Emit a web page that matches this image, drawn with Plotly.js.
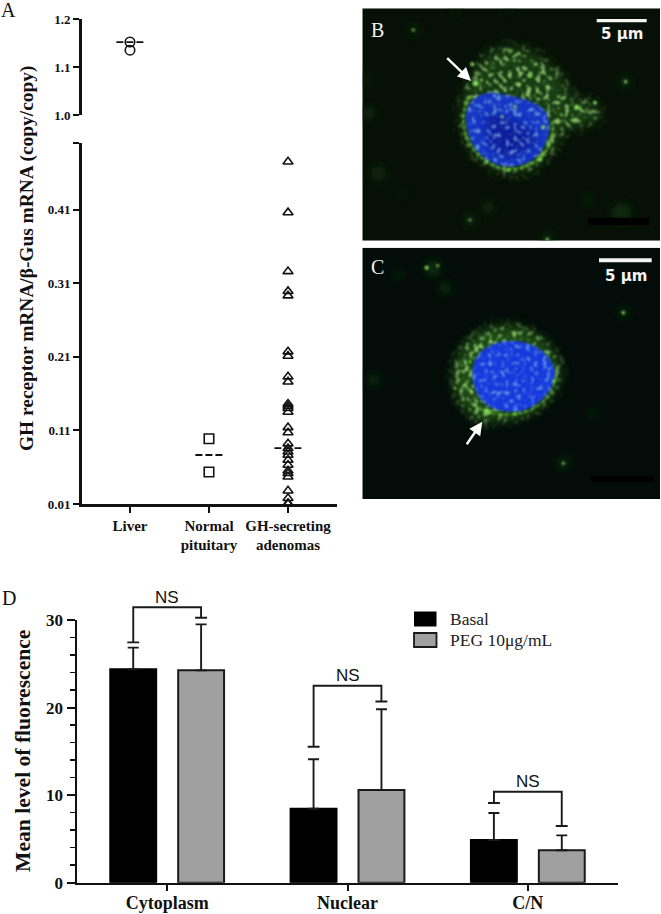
<!DOCTYPE html>
<html><head><meta charset="utf-8">
<script src="https://cdn.plot.ly/plotly-3.0.1.min.js"></script>
<style>html,body{margin:0;padding:0;background:#fff}#c{width:661px;height:914px}</style>
</head><body><div id="c"></div>
<script>
// ---------- Panel A data ----------
const groupsA = ["Liver", "Normal<br>pituitary", "GH-secreting<br>adenomas"];
const liverValues = [1.152, 1.135];
const pituitaryValues = [0.0987, 0.0535];
const adenomaValues = [0.475,0.406,0.326,0.299,0.293,0.217,0.211,0.183,0.176,0.146,0.143,0.14,0.135,0.114,0.107,0.092,0.0856,0.081,0.0766,0.0698,0.063,0.0552,0.0517,0.047,0.028,0.0178,0.011,0.01];
const meansA = [1.152, 0.0766, 0.086];
const lowerTicks = [0.01,0.11,0.21,0.31,0.41];
const upperTicks = [1.0,1.1,1.2];
// ---------- Panel D data ----------
const categoriesD = ["Cytoplasm","Nuclear","C/N"];
const basal = [24.37,8.45,4.88];
const peg = [24.25,10.6,3.7];
const basalErr = [2.47,5.65,3.08];
const pegErr = [5.25,9.2,1.7];
const bracketTop = [31.45,22.5,10.39];
const bracketLeft = [27.45,15.53,9.1];
const bracketRight = [30.26,20.7,6.47];

const W=661,H=914;
const px=x=>x/W, py=y=>1-y/H;
const serif='"Liberation Serif","Times New Roman",serif';
const ink='#111111';

// ---------- Micrographs (decorative images) ----------
function dots(list,fill,blur){return list.map(d=>`<circle cx="${d[0]}" cy="${d[1]}" r="${d[2]}" fill="${fill}" filter="url(#${blur})"/>`).join('');}
function defs(seed){return `<defs>
<filter id="b1" x="-100%" y="-100%" width="300%" height="300%"><feGaussianBlur stdDeviation="2.8"/></filter>
<filter id="b2" x="-100%" y="-100%" width="300%" height="300%"><feGaussianBlur stdDeviation="16"/></filter>
<filter id="b3" x="-100%" y="-100%" width="300%" height="300%"><feGaussianBlur stdDeviation="14"/></filter>
<filter id="sp" x="-20%" y="-20%" width="140%" height="140%"><feTurbulence type="fractalNoise" baseFrequency=".07" numOctaves="2" seed="${seed}" result="n"/>
<feColorMatrix in="n" type="matrix" values="0 0 0 0 .42  0 0 0 0 .80  0 0 0 0 .24  8 0 0 0 -4.3" result="c"/><feGaussianBlur in="SourceAlpha" stdDeviation="18" result="a"/><feComposite in="c" in2="a" operator="in"/><feGaussianBlur stdDeviation="3"/></filter>
<filter id="sn" x="-10%" y="-10%" width="120%" height="120%"><feTurbulence type="fractalNoise" baseFrequency=".08" numOctaves="2" seed="${seed+5}" result="n"/>
<feColorMatrix in="n" type="matrix" values="0 0 0 0 .22  0 0 0 0 .52  0 0 0 0 .80  8 0 0 0 -4.5" result="c"/><feComposite in="c" in2="SourceAlpha" operator="in"/><feGaussianBlur stdDeviation="3"/></filter>
</defs>`;}
function svgUri(s){return 'data:image/svg+xml;charset=utf-8,'+encodeURIComponent(s);}
const haloB="M318,360 C314,290 345,225 390,170 C430,130 510,135 570,180 C620,225 650,270 650,305 C680,295 725,295 740,345 C710,385 650,375 620,395 C605,445 570,495 500,518 C440,528 385,495 350,455 C330,425 318,390 318,360Z";
const nucB="M334,335 C345,295 385,270 430,280 C480,290 550,300 575,340 C590,375 582,420 560,450 C535,490 490,505 440,497 C395,488 360,455 345,415 C335,390 330,360 334,335Z";
const microB=svgUri(`<svg xmlns="http://www.w3.org/2000/svg" viewBox="22 25 893 697" preserveAspectRatio="none">${defs(3)}
<rect x="22" y="25" width="893" height="697" fill="#061006"/>
${dots([[175,90,16],[40,340,20],[70,520,22],[345,660,18],[575,715,18],[800,640,30],[810,245,18],[700,600,14],[140,580,10],[400,620,18],[30,240,14],[300,35,10],[465,30,9]],'#0c2a0b','b3')}
<path d="${haloB}" fill="#1c4a15" opacity=".75" filter="url(#b2)"/>
<path d="${haloB}" fill="#fff" opacity=".8" filter="url(#sp)"/>
<path d="M345,290 C325,320 320,365 330,395 C345,445 385,490 440,505 C490,515 545,495 575,450 C590,425 598,395 592,365" fill="none" stroke="#5cab36" stroke-width="7" stroke-dasharray="13 5" filter="url(#b1)"/>
<path d="${nucB}" fill="#1836c4" filter="url(#b1)"/>
<path d="M400,340 C450,350 520,370 545,410 C530,460 480,480 440,470 C400,440 380,390 400,340Z" fill="#0d1a9c" filter="url(#b3)"/>
<path d="${nucB}" fill="#fff" opacity=".75" filter="url(#sn)"/>
${dots([[362,250,9],[352,193,6],[665,322,8],[720,308,6],[660,358,5],[812,245,5],[480,320,5],[440,350,4],[565,382,6],[580,432,6],[555,478,7],[525,228,6],[490,255,4],[460,510,5],[395,485,4],[620,345,4],[515,285,4],[610,290,4],[430,285,3],[345,660,4],[577,718,5],[175,90,4]],'#82d858','b1')}
</svg>`);
const haloC="M296,400 C296,325 345,258 430,243 C505,232 575,275 612,350 C628,400 595,475 522,506 C470,528 410,532 366,526 C328,495 296,450 296,400Z";
const nucC="M355,360 C370,310 420,285 480,288 C540,292 590,330 600,380 C600,430 560,480 500,497 C450,505 400,495 375,460 C355,430 348,395 355,360Z";
const microC=svgUri(`<svg xmlns="http://www.w3.org/2000/svg" viewBox="22 8 893 754" preserveAspectRatio="none">${defs(9)}
<rect x="22" y="8" width="893" height="754" fill="#030c09"/>
${dots([[235,70,24],[270,130,18],[55,405,18],[805,203,16],[625,655,18],[712,505,12],[130,90,12]],'#0d2e0b','b3')}
<path d="${haloC}" fill="#205516" opacity=".85" filter="url(#b2)"/>
<path d="${haloC}" fill="#fff" opacity=".85" filter="url(#sp)"/>
<path d="M370,490 C410,512 470,515 520,498 C570,478 600,430 606,380" fill="none" stroke="#5cb034" stroke-width="5" stroke-dasharray="14 6" filter="url(#b1)"/>
<path d="${nucC}" fill="#1437dc" filter="url(#b1)"/>
<path d="${nucC}" fill="#fff" opacity=".7" filter="url(#sn)"/>
${dots([[395,498,8],[480,507,5],[597,408,5],[300,430,4],[372,516,3],[215,68,6],[248,62,4],[805,203,5],[625,655,4],[390,470,3],[345,350,4],[320,360,3],[360,300,3]],'#7fe44d','b1')}
</svg>`);

// ---------- Traces ----------
const meanDash='7px,3px';
function meanTrace(i,yax){const hw=0.172;return {type:'scatter',mode:'lines',x:[i-hw,i+hw],y:[meansA[i],meansA[i]],xaxis:'x',yaxis:yax,showlegend:false,hoverinfo:'skip',cliponaxis:false,line:{color:ink,width:1.8,dash:meanDash}};}
function ptTrace(v,i,sym,size,yax){return {type:'scatter',mode:'markers',x:v.map(()=>i),y:v,xaxis:'x',yaxis:yax,showlegend:false,cliponaxis:false,marker:{symbol:sym,size:size,color:ink,line:{color:ink,width:1.6}}};}
const traces=[
 ptTrace(liverValues,0,'circle-open',9.5,'y2'),
 ptTrace(pituitaryValues,1,'square-open',9.5,'y'),
 ptTrace(adenomaValues,2,'triangle-up-open',8.8,'y'),
 meanTrace(0,'y2'),meanTrace(1,'y'),meanTrace(2,'y'),
 {type:'bar',name:'Basal',x:[0,1,2],y:basal,xaxis:'x2',yaxis:'y3',marker:{color:'#000',line:{color:'#000',width:2}},
  error_y:{type:'data',symmetric:false,array:basalErr,arrayminus:basalErr.map(()=>0),color:'#1a1a1a',thickness:1.9,width:5.5},showlegend:false},
 {type:'bar',name:'PEG 10μg/mL',x:[0,1,2],y:peg,xaxis:'x2',yaxis:'y3',marker:{color:'#a0a0a0',line:{color:'#1a1a1a',width:2}},
  error_y:{type:'data',symmetric:false,array:pegErr,arrayminus:pegErr.map(()=>0),color:'#1a1a1a',thickness:1.9,width:5.5},showlegend:false}
];
const off=0.188, capHalf=0.033;
const annotations=[];
categoriesD.forEach((c,i)=>{
 const l=i-off,r=i+off;
 const common={type:'scatter',mode:'lines',xaxis:'x2',yaxis:'y4',showlegend:false,hoverinfo:'skip',cliponaxis:false,line:{color:'#1a1a1a',width:1.9}};
 traces.push(Object.assign({x:[l,l,r,r],y:[bracketLeft[i],bracketTop[i],bracketTop[i],bracketRight[i]]},common));
 traces.push(Object.assign({x:[l-capHalf,l+capHalf],y:[bracketLeft[i],bracketLeft[i]]},common));
 traces.push(Object.assign({x:[r-capHalf,r+capHalf],y:[bracketRight[i],bracketRight[i]]},common));
 annotations.push({xref:'x2',yref:'y4',x:i,y:bracketTop[i],yshift:10,text:'NS',showarrow:false,font:{family:'"Liberation Sans",Arial,sans-serif',size:17,color:ink}});
});
function label(x,y,t,o){annotations.push(Object.assign({xref:'paper',yref:'paper',x:px(x),y:py(y),text:t,showarrow:false,xanchor:'center',yanchor:'middle',font:{family:serif,size:20,color:ink}},o||{}));}
label(8,10,'A');label(9,598,'D');
label(377,30,'B',{font:{family:serif,size:20,color:'#f2f2f2'}});
label(377,267,'C',{font:{family:serif,size:20,color:'#f2f2f2'}});
label(27,259,'GH receptor mRNA/β-Gus mRNA (copy/copy)',{textangle:-90,font:{family:serif,size:19.4,color:ink,weight:700}});
label(23,751,'Mean level of fluorescence',{textangle:-90,font:{family:serif,size:21.6,color:ink,weight:700}});
const sbFont={family:'"DejaVu Sans",sans-serif',size:15,color:'#f4f4f4',weight:700};
label(621.7,34,'5 μm',{font:sbFont});label(625.7,276,'5 μm',{font:sbFont});
label(447.7,618.5,'Basal',{xanchor:'left',font:{family:serif,size:17.5,color:'#222'}});
label(447.7,640,'PEG 10μg/mL',{xanchor:'left',font:{family:serif,size:17.5,color:'#222'}});
function arrow(x0,y0,x1,y1){annotations.push({xref:'paper',yref:'paper',axref:'pixel',ayref:'pixel',x:px(x1),y:py(y1),ax:x0-x1,ay:y0-y1,text:'',showarrow:true,arrowhead:2,arrowsize:1.1,arrowwidth:2.4,arrowcolor:'#fff'});}
arrow(445.7,56.7,471,81);arrow(465.7,445.7,482.3,421.7);

function rect(x0,y0,x1,y1,c,line){return {type:'rect',xref:'paper',yref:'paper',x0:px(x0),x1:px(x1),y0:py(y0),y1:py(y1),fillcolor:c,line:line||{width:0},layer:'above'};}
const shapes=[
 rect(596.7,19,646.7,22.3,'#f4f4f4'),rect(588.3,217.7,649.3,225,'#000'),
 rect(599,258.3,651.7,262.3,'#f4f4f4'),rect(590.7,475.7,654,482,'#000'),
 rect(414,611.5,436.5,626.5,'#000'),rect(414,633,436.5,647,'#a0a0a0',{color:'#1a1a1a',width:1.8})
];
const tickF=s=>({family:serif,size:s,color:ink,weight:700});
const image=(src,x0,y0,x1,y1)=>({source:src,xref:'paper',yref:'paper',x:px(x0),y:py(y0),sizex:(x1-x0)/W,sizey:(y1-y0)/H,xanchor:'left',yanchor:'top',sizing:'stretch',layer:'below'});
const unitD=(882.7-620)/30; // pixels per unit of panel D, shared with the hidden bracket axis
const layout={
 width:W,height:H,margin:{l:0,r:0,t:0,b:0,autoexpand:false},paper_bgcolor:'#fff',plot_bgcolor:'rgba(0,0,0,0)',
 showlegend:false,hovermode:false,
 barmode:'group',bargap:0.247,bargroupgap:0.324,
 xaxis:{domain:[px(81.7),px(337)],range:[-0.611,2.62],anchor:'y',tickmode:'array',tickvals:[0,1,2],ticktext:groupsA,ticks:'outside',ticklen:6,tickwidth:2,tickcolor:ink,showline:true,linecolor:ink,linewidth:2.5,showgrid:false,zeroline:false,tickfont:tickF(15),fixedrange:true},
 yaxis:{domain:[py(504),py(143)],range:[0.01,0.5005],anchor:'x',tickmode:'array',tickvals:lowerTicks.concat([0.5005]),ticktext:lowerTicks.map(v=>v.toFixed(2)).concat(['']),ticks:'outside',ticklen:6,tickwidth:2,tickcolor:ink,showline:true,linecolor:ink,linewidth:2.5,showgrid:false,zeroline:false,tickfont:tickF(13),fixedrange:true},
 yaxis2:{domain:[py(115),py(19)],range:[1.0,1.2],anchor:'x',tickmode:'array',tickvals:upperTicks,ticktext:upperTicks.map(v=>v.toFixed(1)),ticks:'outside',ticklen:6,tickwidth:2,tickcolor:ink,showline:true,linecolor:ink,linewidth:2.5,showgrid:false,zeroline:false,tickfont:tickF(13),fixedrange:true},
 xaxis2:{domain:[px(77),px(618)],range:[-0.5,2.5],anchor:'y3',tickmode:'array',tickvals:[0,1,2],ticktext:categoriesD,ticks:'outside',ticklen:6,tickwidth:2,tickcolor:ink,showline:true,linecolor:ink,linewidth:2.5,showgrid:false,zeroline:false,tickfont:tickF(18),ticklabelstandoff:-4,fixedrange:true},
 yaxis3:{domain:[py(882.7),py(620)],range:[0,30],anchor:'x2',tickmode:'linear',tick0:0,dtick:10,ticks:'outside',ticklen:8,tickwidth:2,tickcolor:ink,minor:{tick0:0,dtick:2,ticks:'outside',ticklen:5,tickwidth:1.6,tickcolor:ink},showline:true,linecolor:ink,linewidth:2.5,showgrid:false,zeroline:false,tickfont:tickF(17),fixedrange:true},
 yaxis4:{domain:[py(882.7),py(590)],range:[0,(882.7-590)/unitD],anchor:'x2',visible:false,showgrid:false,zeroline:false,fixedrange:true},
 annotations:annotations,shapes:shapes,
 images:[image(microB,362.3,8.3,660,240.7),image(microC,362.3,247.7,660,499)]
};
Plotly.newPlot('c',traces,layout,{displayModeBar:false,staticPlot:true});
</script></body></html>
